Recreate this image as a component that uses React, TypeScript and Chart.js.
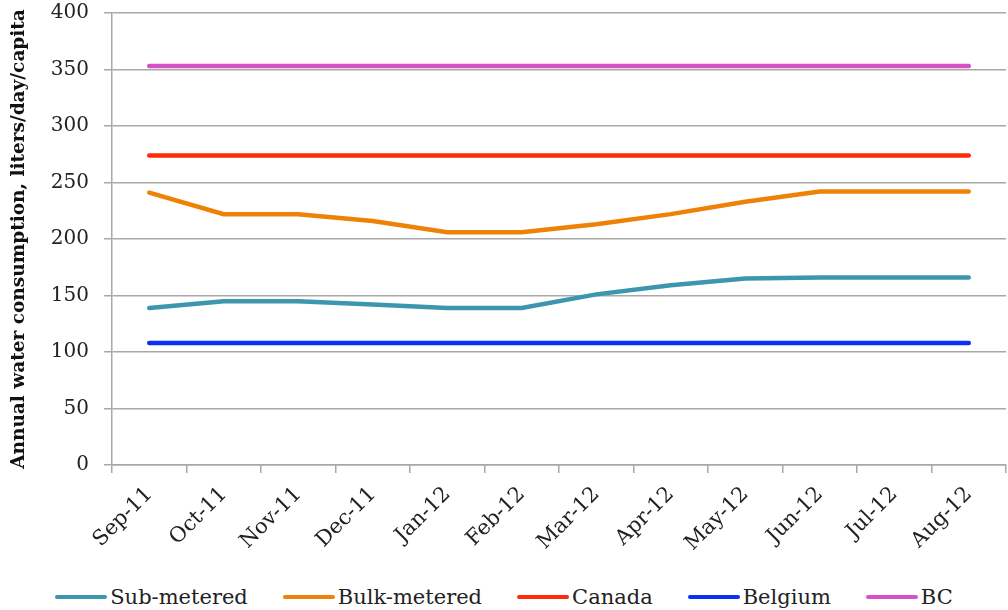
import React, { useEffect, useRef } from "react";
import { Chart, registerables } from "chart.js";

Chart.register(...registerables);

const months = ["Sep-11", "Oct-11", "Nov-11", "Dec-11", "Jan-12", "Feb-12", "Mar-12", "Apr-12", "May-12", "Jun-12", "Jul-12", "Aug-12"];
const subMetered = [139, 145, 145, 142, 139, 139, 151, 159, 165, 166, 166, 166];
const bulkMetered = [241, 222, 222, 216, 206, 206, 213, 222, 233, 242, 242, 242];
const canada = [274, 274, 274, 274, 274, 274, 274, 274, 274, 274, 274, 274];
const belgium = [108, 108, 108, 108, 108, 108, 108, 108, 108, 108, 108, 108];
const bc = [353, 353, 353, 353, 353, 353, 353, 353, 353, 353, 353, 353];

const seriesNames = ["Sub-metered", "Bulk-metered", "Canada", "Belgium", "BC"];
const seriesColors = ["#3c96ad", "#ee8207", "#ff2a0a", "#0b30f5", "#d452c6"];
const seriesValues = [subMetered, bulkMetered, canada, belgium, bc];

const FONT = "'DejaVu Serif', serif";
const GRID = "#a8a8a8";

export default function App() {
  const canvasRef = useRef<HTMLCanvasElement | null>(null);

  useEffect(() => {
    document.body.style.margin = "0";
    document.body.style.overflow = "hidden";
    const ctx = canvasRef.current!;
    const chart = new Chart(ctx, {
      type: "line",
      data: {
        labels: months,
        datasets: seriesNames.map((label, i) => ({
          label,
          data: seriesValues[i],
          borderColor: seriesColors[i],
          backgroundColor: seriesColors[i],
          borderWidth: 4.5,
          pointRadius: 0,
          tension: 0,
          borderCapStyle: "round" as const,
        })),
      },
      options: {
        animation: false,
        responsive: true,
        maintainAspectRatio: false,
        layout: { padding: { top: 0, right: 2, left: 0, bottom: 0 } },
        plugins: {
          tooltip: { enabled: false },
          legend: { display: false },
        },
        scales: {
          x: {
            offset: true,
            afterFit: (scale: any) => {
              scale.height = 116;
            },
            border: { color: GRID, width: 1.5 },
            grid: {
              offset: true,
              drawOnChartArea: false,
              drawTicks: true,
              tickLength: 8,
              color: GRID,
              lineWidth: 1.5,
            },
            ticks: {
              maxRotation: 45,
              minRotation: 45,
              color: "#222",
              padding: 9,
              font: { family: FONT, size: 21 },
            },
          },
          y: {
            min: 0,
            max: 400,
            afterFit: (scale: any) => {
              scale.width = 112;
            },
            border: { color: GRID, width: 1.5 },
            grid: { color: GRID, lineWidth: 1.5, tickLength: 8 },
            ticks: {
              stepSize: 50,
              color: "#222",
              padding: 15,
              font: { family: FONT, size: 20 },
            },
            title: {
              display: true,
              text: "Annual water consumption, liters/day/capita",
              color: "#111",
              padding: { top: 8, bottom: 0 },
              font: { family: FONT, size: 18.5, weight: "bold" },
            },
          },
        },
      },
    });
    return () => chart.destroy();
  }, []);

  return (
    <div style={{ position: "relative", width: 1008, height: 610, overflow: "hidden", background: "#fff" }}>
      <div style={{ position: "absolute", left: 0, top: -14, width: 1008, height: 595 }}>
        <canvas ref={canvasRef} />
      </div>
      <div
        style={{
          position: "absolute",
          left: 0,
          top: 584,
          width: 1008,
          display: "flex",
          justifyContent: "center",
          gap: 35,
          fontFamily: FONT,
          fontSize: 21,
          lineHeight: "26px",
          color: "#222",
        }}
      >
        {seriesNames.map((name, i) => (
          <div key={name} style={{ display: "flex", alignItems: "center" }}>
            <span
              style={{
                display: "inline-block",
                width: 52,
                height: 4,
                borderRadius: 2,
                background: seriesColors[i],
                marginRight: 3,
              }}
            />
            <span>{name}</span>
          </div>
        ))}
      </div>
    </div>
  );
}
